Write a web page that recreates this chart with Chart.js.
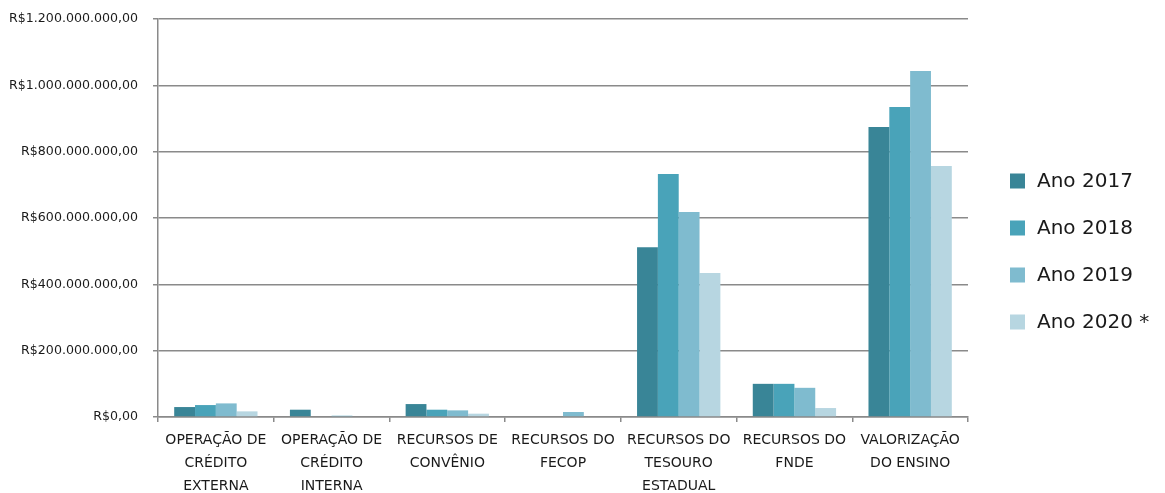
<!DOCTYPE html>
<html>
<head>
<meta charset="utf-8">
<script src="https://cdn.jsdelivr.net/npm/chart.js@4"></script>
<style>
  html, body { margin: 0; padding: 0; background: #fff; }
  #wrap { width: 1165px; height: 493px; position: relative; }
</style>
</head>
<body>
<div id="wrap"><canvas id="c" width="1165" height="493"></canvas></div>
<script>
const categories = [
  ["OPERAÇÃO DE", "CRÉDITO", "EXTERNA"],
  ["OPERAÇÃO DE", "CRÉDITO", "INTERNA"],
  ["RECURSOS DE", "CONVÊNIO"],
  ["RECURSOS DO", "FECOP"],
  ["RECURSOS DO", "TESOURO", "ESTADUAL"],
  ["RECURSOS DO", "FNDE"],
  ["VALORIZAÇÃO", "DO ENSINO"]
];
const seriesNames = ["Ano 2017", "Ano 2018", "Ano 2019", "Ano 2020 *"];
const ano2017 = [30000000, 22000000, 39000000, 0, 512000000, 100000000, 874000000];
const ano2018 = [36000000, 0, 22000000, 0, 733000000, 100000000, 935000000];
const ano2019 = [41000000, 4000000, 20000000, 15000000, 618000000, 88000000, 1043000000];
const ano2020 = [17000000, 0, 10000000, 0, 434000000, 27000000, 757000000];
const yTicks = [0, 200000000, 400000000, 600000000, 800000000, 1000000000, 1200000000];

const colors = ["#398597", "#49a3b9", "#7fbbcf", "#b7d6e1"];
const gridColor = "#8a8a8a";

function brl(v) {
  const s = Math.round(v).toString().replace(/\B(?=(\d{3})+(?!\d))/g, ".");
  return "R$" + s + ",00";
}

const customLegend = {
  id: "customLegend",
  afterDraw(chart) {
    const ctx = chart.ctx;
    ctx.save();
    ctx.font = "20px 'DejaVu Sans'";
    ctx.textBaseline = "middle";
    ctx.textAlign = "left";
    chart.data.datasets.forEach((ds, i) => {
      const cy = 181 + i * 47;
      ctx.fillStyle = ds.backgroundColor;
      ctx.fillRect(1010, cy - 7.5, 15, 15);
      ctx.fillStyle = "#1a1a1a";
      ctx.fillText(ds.label, 1037, cy + 1);
    });
    ctx.restore();
  }
};

const datasets = [ano2017, ano2018, ano2019, ano2020].map((d, i) => ({
  label: seriesNames[i],
  data: d,
  backgroundColor: colors[i],
  borderWidth: 0,
  categoryPercentage: 0.72,
  barPercentage: 1.0
}));

new Chart(document.getElementById("c"), {
  type: "bar",
  data: { labels: categories, datasets },
  options: {
    responsive: false,
    animation: false,
    devicePixelRatio: 1,
    layout: { padding: { top: 19, right: 197, left: 0, bottom: 0 } },
    plugins: { legend: { display: false }, tooltip: { enabled: false } },
    scales: {
      x: {
        grid: { display: true, drawOnChartArea: false, drawTicks: true, tickLength: 5, color: gridColor, lineWidth: 1.5, offset: true },
        border: { display: true, color: gridColor, width: 1.5 },
        ticks: {
          font: { family: "'DejaVu Sans'", size: 14, lineHeight: 1.64 },
          color: "#1a1a1a",
          padding: 7,
          maxRotation: 0,
          autoSkip: false
        },
        afterFit(scale) { scale.height = 76; }
      },
      y: {
        min: 0,
        max: 1200000000,
        afterBuildTicks(scale) { scale.ticks = yTicks.map(v => ({ value: v })); },
        grid: { color: gridColor, lineWidth: 1.5, drawTicks: true, tickLength: 5 },
        border: { display: true, color: gridColor, width: 1.5 },
        ticks: {
          font: { family: "'DejaVu Sans'", size: 12.6 },
          color: "#1a1a1a",
          padding: 15,
          callback: (v) => brl(v)
        },
        afterFit(scale) { scale.width = 158; scale.paddingTop = 0; }
      }
    }
  },
  plugins: [customLegend]
});
</script>
</body>
</html>
